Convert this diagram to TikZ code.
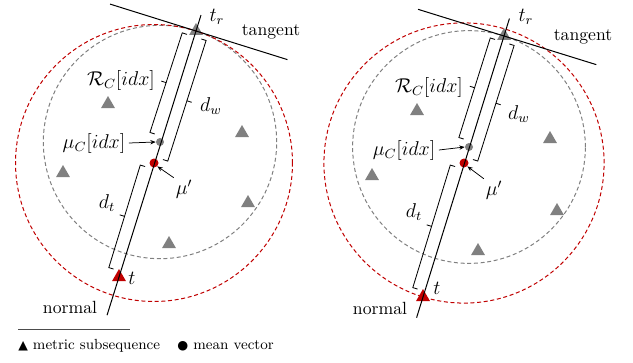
\documentclass[tikz,border=0pt]{standalone}
\usepackage{amsmath}
\usepackage{fontspec}
\newfontfamily\legsymfont{DejaVu Sans}
\usepackage{tikz}
\usetikzlibrary{arrows.meta,positioning,calc,shapes.geometric}
\definecolor{ptred}{RGB}{192,0,0}
\definecolor{ptgray}{RGB}{128,128,128}

% square bracket along the normal, #3 = side (90 left, -90 right), #4 = name
\newcommand{\sqbrace}[4]{%
  \coordinate (#4-a) at ($(#1)!3.6pt!(#2)$);
  \coordinate (#4-b) at ($(#2)!3.6pt!(#1)$);
  \coordinate (#4-m) at ($(#4-a)!0.5!(#4-b)$);
  \coordinate (#4-ai) at ($(#4-a)!4.5pt!#3:(#4-b)$);
  \coordinate (#4-ao) at ($(#4-a)!7.5pt!#3:(#4-b)$);
  \coordinate (#4-at) at ($(#4-a)!10.5pt!#3:(#4-b)$);
  \draw[brace] (#4-ai) -- (#4-ao) -- ($(#4-b)+(#4-ao)-(#4-a)$) -- ($(#4-b)+(#4-ai)-(#4-a)$);
  \draw[brace] ($(#4-m)+(#4-ao)-(#4-a)$) -- ($(#4-m)+(#4-at)-(#4-a)$);
}

\begin{document}
\begin{tikzpicture}[
    x=0.6pt, y=-0.6pt,
    tri/.style={regular polygon, regular polygon sides=3, fill=ptgray, inner sep=0pt, minimum size=9.6pt},
    dot/.style={circle, fill=ptgray, inner sep=0pt, minimum size=4.8pt},
    lbl/.style={inner sep=0pt, font=\fontsize{12}{14}\selectfont},
    word/.style={inner sep=0pt, font=\fontsize{10.6}{12}\selectfont},
    brace/.style={line width=0.5pt},
    line/.style={line width=0.6pt},
    circ/.style={dashed, dash pattern=on 2.4pt off 1.6pt, line width=0.6pt},
    pointer/.style={-{Stealth[length=3.2pt,width=2.6pt]}, line width=0.45pt}
]
\useasboundingbox (0,0) rectangle (633,362);

% ---------- left panel ----------
\node[tri] (trA) at (196,31) {};
\node[tri, fill=ptred] (tA) at (119,277) {};
\node[dot] (muA) at (160,142) {};
\node[dot, fill=ptred, minimum size=5.4pt] (mupA) at (154,163) {};
\foreach \p in {(108,104),(242,133),(63,173),(248,203),(169,244)}
  \node[tri] at \p {};

\draw[circ, ptgray] let \p1=($(trA)-(muA)$), \n1={veclen(\x1,\y1)} in (muA) circle (\n1);
\draw[circ, ptred] let \p1=($(trA)-(mupA)$), \n1={veclen(\x1,\y1)} in (mupA) circle (\n1);

\draw[line] ($(trA)!-10pt!(tA)$) -- ($(tA)!-24pt!(trA)$);
\draw[line] ($(trA)!54pt!-90:(tA)$) -- ($(trA)!57.5pt!90:(tA)$);

\sqbrace{muA}{trA}{90}{rcA}
\sqbrace{mupA}{trA}{-90}{dwA}
\sqbrace{tA}{mupA}{90}{dtA}

\node[lbl] (trlA) at (217,17) {$t_r$};
\node[word] (tanA) at (271,32) {tangent};
\node[lbl] (rclA) at (121,80) {$\mathcal{R}_C[idx]$};
\node[lbl] (dwlA) at (211,106) {$d_w$};
\node[lbl] (mulA) at (94,143) {$\mu_C[idx]$};
\node[lbl] (muplA) at (184,189) {$\mu'$};
\node[lbl] (dtlA) at (107,203) {$d_t$};
\node[lbl] (tlA) at (132,278) {$t$};
\node[word] (norA) at (70,307) {normal};

\draw[pointer] (mulA.east) ++(2pt,0) -- (muA.west);
\draw[pointer] (muplA.north west) ++(-1pt,1pt) -- (mupA.south east);

% ---------- right panel ----------
\node[tri] (trB) at (504,36) {};
\node[tri, fill=ptred] (tB) at (423,297) {};
\node[dot] (muB) at (469,147) {};
\node[dot, fill=ptred, minimum size=5.4pt] (mupB) at (464,163) {};
\foreach \p in {(417,111),(550,139),(372,176),(557,211),(478,251)}
  \node[tri] at \p {};

\draw[circ, ptgray] let \p1=($(trB)-(muB)$), \n1={veclen(\x1,\y1)} in (muB) circle (\n1);
\draw[circ, ptred] let \p1=($(tB)-(mupB)$), \n1={veclen(\x1,\y1)} in (mupB) circle (\n1);

\draw[line] ($(trB)!-11pt!(tB)$) -- ($(tB)!-13pt!(trB)$);
\draw[line] ($(trB)!54pt!-90:(tB)$) -- ($(trB)!58pt!90:(tB)$);

\sqbrace{muB}{trB}{90}{rcB}
\sqbrace{mupB}{trB}{-90}{dwB}
\sqbrace{tB}{mupB}{90}{dtB}

\node[lbl] (trlB) at (526,17) {$t_r$};
\node[word] (tanB) at (583,37) {tangent};
\node[lbl] (rclB) at (429,87) {$\mathcal{R}_C[idx]$};
\node[lbl] (dwlB) at (519,114) {$d_w$};
\node[lbl] (mulB) at (404,150) {$\mu_C[idx]$};
\node[lbl] (muplB) at (494,190) {$\mu'$};
\node[lbl] (dtlB) at (414,212) {$d_t$};
\node[lbl] (tlB) at (437,288) {$t$};
\node[word] (norB) at (380,308) {normal};

\draw[pointer] (mulB.east) ++(2pt,0) -- (muB.west);
\draw[pointer] (muplB.north west) ++(-1pt,1pt) -- (mupB.south east);

% ---------- legend ----------
\coordinate (sepL) at (18,329);
\coordinate (sepR) at (130,329);
\draw[line, black!70] (sepL) -- (sepR);
\node[inner sep=0pt, anchor=west, font=\fontsize{8.8}{11}\selectfont] (legtri) at (18,346)
  {{\legsymfont\fontsize{7.5}{8}\selectfont ▲}\ metric subsequence};
\node[inner sep=0pt, anchor=west, font=\fontsize{8.8}{11}\selectfont, right=10pt of legtri] (legdot)
  {{\legsymfont\fontsize{7.5}{8}\selectfont ●}\ mean vector};
\end{tikzpicture}
\end{document}
